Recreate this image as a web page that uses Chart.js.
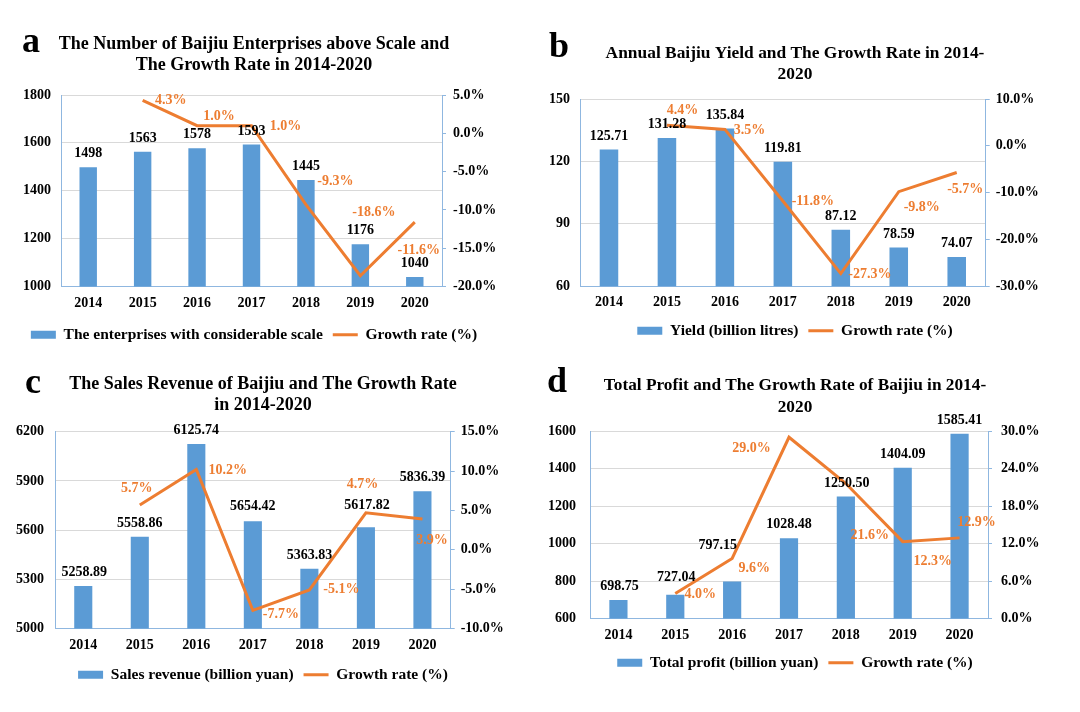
<!DOCTYPE html>
<html>
<head>
<meta charset="utf-8">
<script src="https://cdn.jsdelivr.net/npm/chart.js@4.4.0/dist/chart.umd.min.js"></script>
<style>
  html, body { margin: 0; padding: 0; background: #fff; }
  body { width: 1080px; height: 712px; position: relative; overflow: hidden; font-family: 'Liberation Serif', 'DejaVu Serif', serif; }
  .panel { position: absolute; width: 540px; height: 356px; }
  .panel canvas { position: absolute; left: 0; top: 0; }
  .letter { position: absolute; font-weight: bold; font-size: 36px; line-height: 36px; color: #000; font-family: 'Liberation Serif', serif; }
</style>
</head>
<body>
<div class="panel" style="left:0;top:0"><canvas id="ca" width="540" height="356"></canvas></div>
<div class="panel" style="left:540px;top:0"><canvas id="cb" width="540" height="356"></canvas></div>
<div class="panel" style="left:0;top:356px"><canvas id="cc" width="540" height="356"></canvas></div>
<div class="panel" style="left:540px;top:356px"><canvas id="cd" width="540" height="356"></canvas></div>
<div class="letter" style="left:22px;top:22px">a</div>
<div class="letter" style="left:549px;top:27px">b</div>
<div class="letter" style="left:25px;top:363px">c</div>
<div class="letter" style="left:547px;top:362px">d</div>
<script>
// ---------------- data ----------------
const years = ['2014', '2015', '2016', '2017', '2018', '2019', '2020'];

const enterprises = [1498, 1563, 1578, 1593, 1445, 1176, 1040];
const enterprisesGrowth = [null, 4.3, 1.0, 1.0, -9.3, -18.6, -11.6];

const yieldLitres = [125.71, 131.28, 135.84, 119.81, 87.12, 78.59, 74.07];
const yieldGrowth = [null, 4.4, 3.5, -11.8, -27.3, -9.8, -5.7];

const salesRevenue = [5258.89, 5558.86, 6125.74, 5654.42, 5363.83, 5617.82, 5836.39];
const revenueGrowth = [null, 5.7, 10.2, -7.7, -5.1, 4.7, 3.9];

const totalProfit = [698.75, 727.04, 797.15, 1028.48, 1250.50, 1404.09, 1585.41];
const profitGrowth = [null, 4.0, 9.6, 29.0, 21.6, 12.3, 12.9];

// axis ranges [min, max, step]
const enterprisesAxis = [1000, 1800, 200];
const enterprisesGrowthAxis = [-20, 5, 5];
const yieldAxis = [60, 150, 30];
const yieldGrowthAxis = [-30, 10, 10];
const revenueAxis = [5000, 6200, 300];
const revenueGrowthAxis = [-10, 15, 5];
const profitAxis = [600, 1600, 200];
const profitGrowthAxis = [0, 30, 6];

// ---------------- style ----------------
const BLUE = '#5B9BD5';
const ORANGE = '#ED7D31';
const AXIS = '#8FB7E0';
const GRID = '#D9D9D9';
const FAMILY = "'Liberation Serif', 'Times New Roman', serif";

function makeLabelPlugin(spec) {
  return {
    id: 'valueLabels',
    afterDatasetsDraw(chart) {
      const ctx = chart.ctx;
      ctx.save();
      ctx.textAlign = 'center';
      ctx.textBaseline = 'middle';
      ctx.font = 'bold 14px ' + FAMILY;
      chart.data.datasets.forEach((ds, di) => {
        const meta = chart.getDatasetMeta(di);
        const isBar = ds.type === 'bar';
        const s = isBar ? spec.bar : spec.line;
        meta.data.forEach((el, i) => {
          const v = ds.data[i];
          if (v === null || v === undefined) return;
          const off = (s.offsets && s.offsets[i]) || [0, 0];
          const x = el.x + off[0];
          const y = (isBar ? el.y - 13.5 : el.y) + off[1];
          ctx.fillStyle = s.color;
          ctx.fillText(s.format(v), x, y);
        });
      });
      ctx.restore();
    }
  };
}

function buildPanel(id, d, g) {
  const tickFont = { family: FAMILY, size: 14, weight: 'bold' };
  new Chart(document.getElementById(id), {
    data: {
      labels: years,
      datasets: [
        { type: 'bar', label: d.barLabel, data: d.bars, backgroundColor: BLUE, borderWidth: 0,
          yAxisID: 'y', order: 1, barPercentage: 0.32, categoryPercentage: 1 },
        { type: 'line', label: 'Growth rate (%)', data: d.growth, borderColor: ORANGE, backgroundColor: ORANGE,
          borderWidth: 3, pointRadius: 0, tension: 0, yAxisID: 'y1', order: 0 }
      ]
    },
    options: {
      responsive: false,
      animation: false,
      events: [],
      layout: { padding: { left: 0, right: g.padRight, top: 0, bottom: g.padBottom } },
      plugins: {
        title: {
          display: true, text: d.title, color: '#000',
          font: { family: FAMILY, size: g.titleSize, weight: 'bold', lineHeight: 21.6 / g.titleSize },
          padding: { top: g.titleTop, bottom: g.titleBottom }
        },
        legend: {
          position: 'bottom',
          labels: {
            color: '#000',
            font: { family: FAMILY, size: 15.5, weight: 'bold' },
            usePointStyle: true, pointStyleWidth: 25, boxHeight: 8, padding: 10,
            sort: (a, b) => a.datasetIndex - b.datasetIndex,
            generateLabels(chart) {
              const items = Chart.defaults.plugins.legend.labels.generateLabels(chart);
              items.forEach(it => {
                if (it.datasetIndex === 0) { it.pointStyle = 'rect'; it.lineWidth = 0; it.fillStyle = BLUE; }
                else { it.pointStyle = 'line'; it.lineWidth = 3; it.strokeStyle = ORANGE; }
              });
              return items;
            }
          }
        },
        tooltip: { enabled: false }
      },
      scales: {
        x: {
          grid: { display: false, drawTicks: false },
          border: { color: AXIS, width: 1 },
          ticks: { color: '#000', font: tickFont, padding: 8 },
          afterFit(s) { s.height = g.xH; }
        },
        y: {
          position: 'left',
          min: d.leftAxis[0], max: d.leftAxis[1],
          ticks: { stepSize: d.leftAxis[2], color: '#000', font: tickFont, padding: g.leftPad,
                   callback: v => String(v) },
          grid: { color: GRID, drawTicks: false },
          border: { color: AXIS, width: 1 },
          afterFit(s) { s.width = g.leftW; }
        },
        y1: {
          position: 'right',
          min: d.rightAxis[0], max: d.rightAxis[1],
          ticks: { stepSize: d.rightAxis[2], color: '#000', font: tickFont, padding: g.rightPad,
                   callback: v => Number(v).toFixed(1) + '%' },
          grid: { drawOnChartArea: false, drawTicks: true, tickLength: 4, color: AXIS },
          border: { color: AXIS, width: 1 },
          afterFit(s) { s.width = g.rightW; }
        }
      }
    },
    plugins: [makeLabelPlugin({
      bar: { color: '#000', format: d.barFormat, offsets: d.barOffsets },
      line: { color: ORANGE, format: v => v.toFixed(1) + '%', offsets: d.lineOffsets }
    })]
  });
}

const fmtInt = v => String(Math.round(v));
const fmt2 = v => v.toFixed(2);

buildPanel('ca', {
  title: ['The Number of Baijiu Enterprises above Scale and', 'The Growth Rate in 2014-2020'],
  barLabel: 'The enterprises with considerable scale',
  bars: enterprises, growth: enterprisesGrowth,
  leftAxis: enterprisesAxis, rightAxis: enterprisesGrowthAxis,
  barFormat: fmtInt,
  barOffsets: null,
  lineOffsets: [null, [28, 0.5], [22, -9], [34, 1], [29.5, -23.5], [13.5, -63.5], [4, 28.5]]
}, { padRight: 32, padBottom: 3.5, titleTop: 33.2, titleBottom: 18.6, xH: 30.5, titleSize: 18,
     leftW: 61, rightW: 66, leftPad: 10, rightPad: 7 });

buildPanel('cb', {
  title: ['Annual Baijiu Yield and The Growth Rate in 2014-', '2020'],
  barLabel: 'Yield (billion litres)',
  bars: yieldLitres, growth: yieldGrowth,
  leftAxis: yieldAxis, rightAxis: yieldGrowthAxis,
  barFormat: fmt2,
  barOffsets: null,
  lineOffsets: [null, [15.5, -14.5], [24.5, 0.5], [30, 0.5], [29, 1], [23, 15.5], [8.5, 16.5]]
}, { padRight: 30, padBottom: 7.5, titleTop: 42.5, titleBottom: 13.3, xH: 26.8, titleSize: 17.4,
     leftW: 40, rightW: 64.3, leftPad: 10, rightPad: 6 });

buildPanel('cc', {
  title: ['The Sales Revenue of Baijiu and The Growth Rate', 'in 2014-2020'],
  barLabel: 'Sales revenue (billion yuan)',
  bars: salesRevenue, growth: revenueGrowth,
  leftAxis: revenueAxis, rightAxis: revenueGrowthAxis,
  barFormat: fmt2,
  barOffsets: [[1, 0], [0, 0], [0, 0], [0, -1], [0, 0], [1, -8], [0, 0]],
  lineOffsets: [null, [-3, -17], [31.5, 0.5], [28, 4], [32, -1], [-3.5, -28.5], [9.5, 21.5]]
}, { padRight: 14, padBottom: 19.5, titleTop: 17.2, titleBottom: 15.3, xH: 28.5, titleSize: 18,
     leftW: 55, rightW: 75.3, leftPad: 11, rightPad: 6 });

buildPanel('cd', {
  title: ['Total Profit and The Growth Rate of Baijiu in 2014-', '2020'],
  barLabel: 'Total profit (billion yuan)',
  bars: totalProfit, growth: profitGrowth,
  leftAxis: profitAxis, rightAxis: profitGrowthAxis,
  barFormat: fmt2,
  barOffsets: [[1, 0], [1, -4], [-14.5, -22.5], [0, 0], [1, 0], [0, 0], [0, 0]],
  lineOffsets: [null, [25, 1], [22, 9.5], [-37.5, 11], [24, 52], [30, 20], [17, -15.5]]
}, { padRight: 30, padBottom: 31.5, titleTop: 18.9, titleBottom: 12.9, xH: 26.5, titleSize: 17.3,
     leftW: 50, rightW: 62, leftPad: 14, rightPad: 9 });
</script>
</body>
</html>
